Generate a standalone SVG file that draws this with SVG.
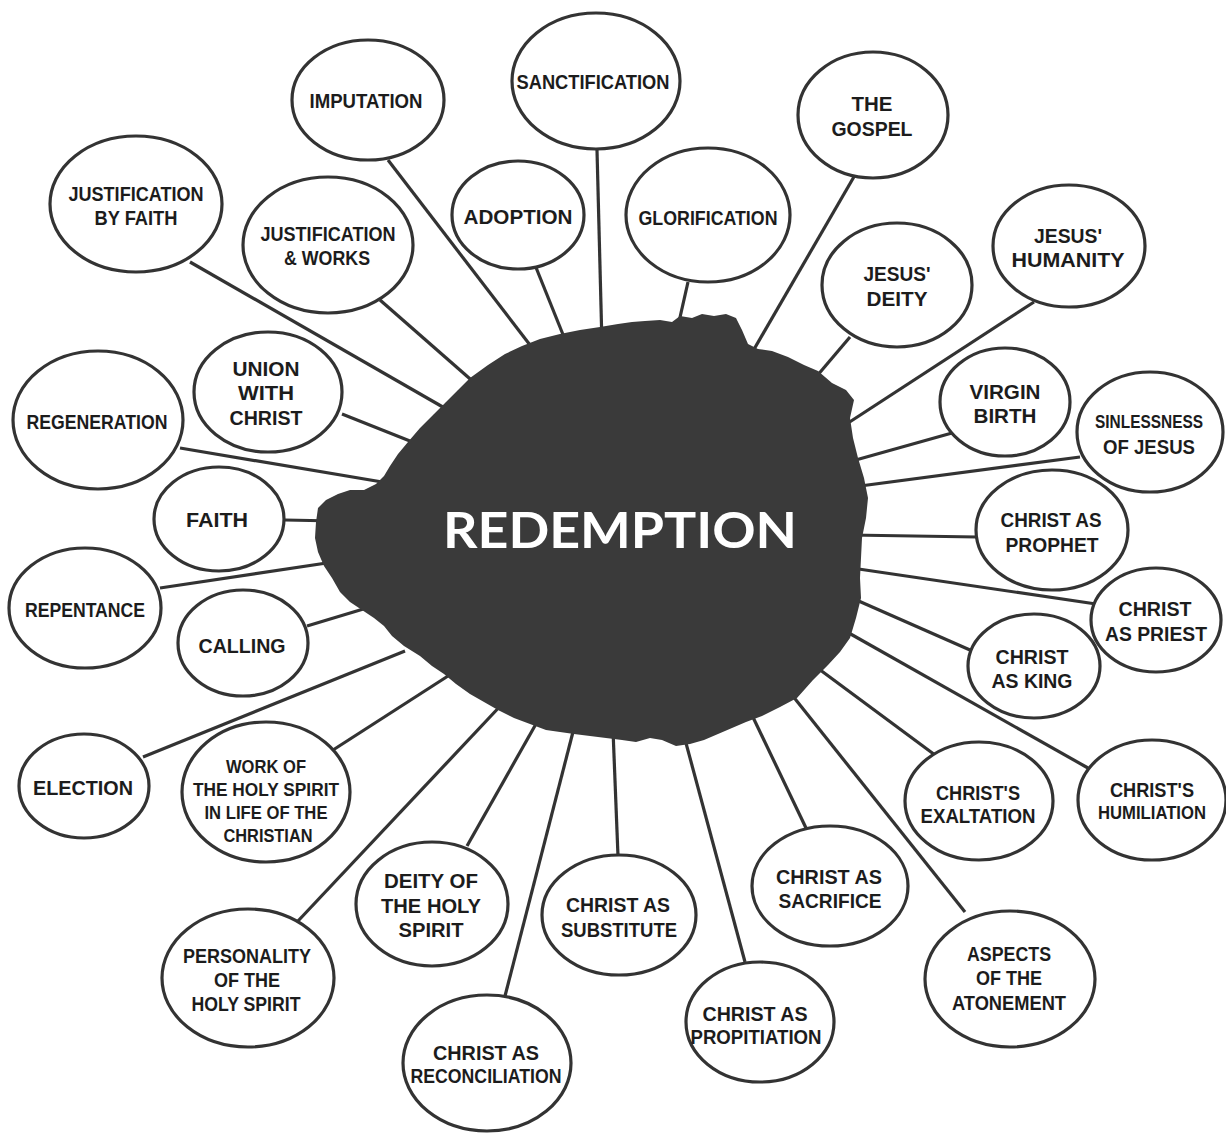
<svg xmlns="http://www.w3.org/2000/svg" width="1226" height="1134" viewBox="0 0 1226 1134">
<style>
.bg{fill:#ffffff}
.n ellipse{fill:#ffffff;stroke:#333333;stroke-width:3.2}
.n text{font-family:"Liberation Sans",Arial,sans-serif;font-weight:bold;font-size:21px;fill:#1c1c1c;text-anchor:middle}
.n text.s{font-size:19px}
#connectors line{stroke:#333333;stroke-width:3.2;stroke-linecap:butt}
#blob path{fill:#3a3a3a}
#blob text{font-family:Lato,"Open Sans","Liberation Sans",sans-serif;font-weight:bold;font-size:50px;fill:#ffffff;text-anchor:middle}
</style>
<rect class="bg" x="0" y="0" width="1226" height="1134"/>
<g id="connectors">
<line x1="190" y1="262" x2="455" y2="414"/>
<line x1="388" y1="160" x2="540" y2="358"/>
<line x1="380" y1="300" x2="485" y2="392"/>
<line x1="535" y1="265" x2="570" y2="352"/>
<line x1="597" y1="150" x2="602" y2="345"/>
<line x1="688" y1="282" x2="676" y2="335"/>
<line x1="855" y1="175" x2="742" y2="370"/>
<line x1="850" y1="337" x2="805" y2="390"/>
<line x1="1034" y1="302" x2="845" y2="425"/>
<line x1="342" y1="414" x2="420" y2="445"/>
<line x1="180" y1="448" x2="400" y2="485"/>
<line x1="952" y1="433" x2="845" y2="463"/>
<line x1="1080" y1="457" x2="845" y2="488"/>
<line x1="285" y1="520" x2="335" y2="521"/>
<line x1="977" y1="537" x2="850" y2="535"/>
<line x1="160" y1="588" x2="340" y2="561"/>
<line x1="307" y1="626" x2="370" y2="607"/>
<line x1="1096" y1="604" x2="845" y2="567"/>
<line x1="970" y1="650" x2="845" y2="595"/>
<line x1="143" y1="757" x2="405" y2="651"/>
<line x1="333" y1="750" x2="462" y2="667"/>
<line x1="1088" y1="768" x2="840" y2="628"/>
<line x1="935" y1="755" x2="800" y2="655"/>
<line x1="298" y1="921" x2="505" y2="701"/>
<line x1="467" y1="846" x2="545" y2="708"/>
<line x1="505" y1="996" x2="574" y2="728"/>
<line x1="618" y1="856" x2="613" y2="730"/>
<line x1="745" y1="962" x2="683" y2="732"/>
<line x1="806" y1="828" x2="740" y2="690"/>
<line x1="965" y1="912" x2="788" y2="690"/>
</g>
<g id="blob">
<path d="M470 378 L488 365 L505 354 L522 346 L540 339 L560 334 L580 330 L600 327 L618 324 L632 322 L645 321 L660 320 L672 322 L680 316 L692 318 L702 314 L714 316 L726 314 L736 318 L742 330 L748 344 L758 349 L772 351 L788 357 L804 365 L818 371 L832 383 L846 390 L854 400 L850 418 L853 438 L858 458 L864 478 L868 498 L866 518 L862 538 L861 558 L860 578 L861 598 L856 618 L850 638 L840 652 L828 665 L813 680 L797 698 L780 707 L762 716 L746 722 L732 728 L718 734 L704 740 L690 744 L676 746 L662 740 L650 738 L636 742 L622 740 L606 738 L590 736 L574 734 L560 732 L546 730 L530 724 L514 718 L498 710 L484 702 L470 694 L456 684 L444 674 L432 666 L420 656 L404 646 L392 636 L384 626 L374 618 L362 610 L350 602 L340 592 L332 578 L324 566 L318 552 L315 538 L316 522 L318 508 L326 500 L338 494 L350 490 L364 490 L376 484 L384 476 L390 466 L398 454 L408 442 L420 428 L434 414 L446 402 L458 390 Z"/>
<text x="620" y="548" textLength="354" lengthAdjust="spacingAndGlyphs">REDEMPTION</text>
</g>
<g id="n-imputation" class="n"><ellipse cx="368" cy="100" rx="76" ry="60"/><text x="366" y="108" textLength="113" lengthAdjust="spacingAndGlyphs">IMPUTATION</text></g>
<g id="n-sanctification" class="n"><ellipse cx="596" cy="81" rx="84" ry="68"/><text x="593" y="89" textLength="153" lengthAdjust="spacingAndGlyphs">SANCTIFICATION</text></g>
<g id="n-gospel" class="n"><ellipse cx="873" cy="115" rx="75" ry="63"/><text x="872" y="111" textLength="41" lengthAdjust="spacingAndGlyphs">THE</text><text x="872" y="136" textLength="81" lengthAdjust="spacingAndGlyphs">GOSPEL</text></g>
<g id="n-justification-faith" class="n"><ellipse cx="136" cy="204" rx="86" ry="68"/><text x="136" y="201" textLength="135" lengthAdjust="spacingAndGlyphs">JUSTIFICATION</text><text x="136" y="225" textLength="83" lengthAdjust="spacingAndGlyphs">BY FAITH</text></g>
<g id="n-justification-works" class="n"><ellipse cx="328" cy="245" rx="85" ry="68"/><text x="328" y="241" textLength="135" lengthAdjust="spacingAndGlyphs">JUSTIFICATION</text><text x="327" y="265" textLength="86" lengthAdjust="spacingAndGlyphs">&amp; WORKS</text></g>
<g id="n-adoption" class="n"><ellipse cx="518" cy="215" rx="66" ry="54"/><text x="518" y="224" textLength="109" lengthAdjust="spacingAndGlyphs">ADOPTION</text></g>
<g id="n-glorification" class="n"><ellipse cx="708" cy="215" rx="82" ry="67"/><text x="708" y="225" textLength="139" lengthAdjust="spacingAndGlyphs">GLORIFICATION</text></g>
<g id="n-jesus-deity" class="n"><ellipse cx="897" cy="285" rx="75" ry="62"/><text x="897" y="281" textLength="67" lengthAdjust="spacingAndGlyphs">JESUS'</text><text x="897" y="306" textLength="61" lengthAdjust="spacingAndGlyphs">DEITY</text></g>
<g id="n-jesus-humanity" class="n"><ellipse cx="1069" cy="246" rx="76" ry="61"/><text x="1068" y="243" textLength="68" lengthAdjust="spacingAndGlyphs">JESUS'</text><text x="1068" y="267" textLength="113" lengthAdjust="spacingAndGlyphs">HUMANITY</text></g>
<g id="n-union" class="n"><ellipse cx="268" cy="392" rx="74" ry="60"/><text x="266" y="376" textLength="67" lengthAdjust="spacingAndGlyphs">UNION</text><text x="266" y="400" textLength="56" lengthAdjust="spacingAndGlyphs">WITH</text><text x="266" y="425" textLength="73" lengthAdjust="spacingAndGlyphs">CHRIST</text></g>
<g id="n-regeneration" class="n"><ellipse cx="98" cy="420" rx="85" ry="69"/><text x="97" y="429" textLength="141" lengthAdjust="spacingAndGlyphs">REGENERATION</text></g>
<g id="n-virgin-birth" class="n"><ellipse cx="1005" cy="402" rx="65" ry="54"/><text x="1005" y="399" textLength="71" lengthAdjust="spacingAndGlyphs">VIRGIN</text><text x="1005" y="423" textLength="63" lengthAdjust="spacingAndGlyphs">BIRTH</text></g>
<g id="n-sinlessness" class="n"><ellipse cx="1150" cy="432" rx="73" ry="60"/><text class="s" x="1149" y="428" textLength="108" lengthAdjust="spacingAndGlyphs">SINLESSNESS</text><text x="1149" y="454" textLength="92" lengthAdjust="spacingAndGlyphs">OF JESUS</text></g>
<g id="n-faith" class="n"><ellipse cx="219" cy="519" rx="65" ry="52"/><text x="217" y="527" textLength="62" lengthAdjust="spacingAndGlyphs">FAITH</text></g>
<g id="n-prophet" class="n"><ellipse cx="1052" cy="530" rx="76" ry="60"/><text x="1051" y="527" textLength="101" lengthAdjust="spacingAndGlyphs">CHRIST AS</text><text x="1052" y="552" textLength="93" lengthAdjust="spacingAndGlyphs">PROPHET</text></g>
<g id="n-repentance" class="n"><ellipse cx="85" cy="608" rx="76" ry="60"/><text x="85" y="617" textLength="120" lengthAdjust="spacingAndGlyphs">REPENTANCE</text></g>
<g id="n-calling" class="n"><ellipse cx="243" cy="643" rx="65" ry="53"/><text x="242" y="653" textLength="87" lengthAdjust="spacingAndGlyphs">CALLING</text></g>
<g id="n-priest" class="n"><ellipse cx="1156" cy="620" rx="65" ry="52"/><text x="1155" y="616" textLength="73" lengthAdjust="spacingAndGlyphs">CHRIST</text><text x="1156" y="641" textLength="102" lengthAdjust="spacingAndGlyphs">AS PRIEST</text></g>
<g id="n-king" class="n"><ellipse cx="1034" cy="666" rx="66" ry="52"/><text x="1032" y="664" textLength="73" lengthAdjust="spacingAndGlyphs">CHRIST</text><text x="1032" y="688" textLength="81" lengthAdjust="spacingAndGlyphs">AS KING</text></g>
<g id="n-election" class="n"><ellipse cx="84" cy="786" rx="65" ry="52"/><text x="83" y="795" textLength="100" lengthAdjust="spacingAndGlyphs">ELECTION</text></g>
<g id="n-work-holy-spirit" class="n"><ellipse cx="266" cy="792" rx="84" ry="70"/><text class="s" x="266" y="773" textLength="80" lengthAdjust="spacingAndGlyphs">WORK OF</text><text class="s" x="266" y="796" textLength="146" lengthAdjust="spacingAndGlyphs">THE HOLY SPIRIT</text><text class="s" x="266" y="819" textLength="123" lengthAdjust="spacingAndGlyphs">IN LIFE OF THE</text><text class="s" x="268" y="842" textLength="89" lengthAdjust="spacingAndGlyphs">CHRISTIAN</text></g>
<g id="n-exaltation" class="n"><ellipse cx="979" cy="801" rx="74" ry="59"/><text x="978" y="800" textLength="84" lengthAdjust="spacingAndGlyphs">CHRIST'S</text><text x="978" y="823" textLength="115" lengthAdjust="spacingAndGlyphs">EXALTATION</text></g>
<g id="n-humiliation" class="n"><ellipse cx="1152" cy="800" rx="74" ry="60"/><text x="1152" y="797" textLength="84" lengthAdjust="spacingAndGlyphs">CHRIST'S</text><text class="s" x="1152" y="819" textLength="108" lengthAdjust="spacingAndGlyphs">HUMILIATION</text></g>
<g id="n-deity-holy-spirit" class="n"><ellipse cx="432" cy="904" rx="76" ry="62"/><text x="431" y="888" textLength="94" lengthAdjust="spacingAndGlyphs">DEITY OF</text><text x="431" y="913" textLength="100" lengthAdjust="spacingAndGlyphs">THE HOLY</text><text x="431" y="937" textLength="65" lengthAdjust="spacingAndGlyphs">SPIRIT</text></g>
<g id="n-substitute" class="n"><ellipse cx="619" cy="915" rx="77" ry="60"/><text x="618" y="912" textLength="104" lengthAdjust="spacingAndGlyphs">CHRIST AS</text><text x="619" y="937" textLength="116" lengthAdjust="spacingAndGlyphs">SUBSTITUTE</text></g>
<g id="n-sacrifice" class="n"><ellipse cx="830" cy="886" rx="78" ry="60"/><text x="829" y="884" textLength="106" lengthAdjust="spacingAndGlyphs">CHRIST AS</text><text x="830" y="908" textLength="103" lengthAdjust="spacingAndGlyphs">SACRIFICE</text></g>
<g id="n-personality" class="n"><ellipse cx="248" cy="978" rx="86" ry="69"/><text x="247" y="963" textLength="128" lengthAdjust="spacingAndGlyphs">PERSONALITY</text><text x="247" y="987" textLength="66" lengthAdjust="spacingAndGlyphs">OF THE</text><text x="246" y="1011" textLength="109" lengthAdjust="spacingAndGlyphs">HOLY SPIRIT</text></g>
<g id="n-atonement" class="n"><ellipse cx="1010" cy="979" rx="85" ry="68"/><text x="1009" y="961" textLength="84" lengthAdjust="spacingAndGlyphs">ASPECTS</text><text x="1009" y="985" textLength="66" lengthAdjust="spacingAndGlyphs">OF THE</text><text x="1009" y="1010" textLength="114" lengthAdjust="spacingAndGlyphs">ATONEMENT</text></g>
<g id="n-propitiation" class="n"><ellipse cx="760" cy="1022" rx="74" ry="60"/><text x="755" y="1021" textLength="105" lengthAdjust="spacingAndGlyphs">CHRIST AS</text><text x="756" y="1044" textLength="131" lengthAdjust="spacingAndGlyphs">PROPITIATION</text></g>
<g id="n-reconciliation" class="n"><ellipse cx="487" cy="1063" rx="84" ry="68"/><text x="486" y="1060" textLength="106" lengthAdjust="spacingAndGlyphs">CHRIST AS</text><text x="486" y="1083" textLength="151" lengthAdjust="spacingAndGlyphs">RECONCILIATION</text></g>
</svg>
